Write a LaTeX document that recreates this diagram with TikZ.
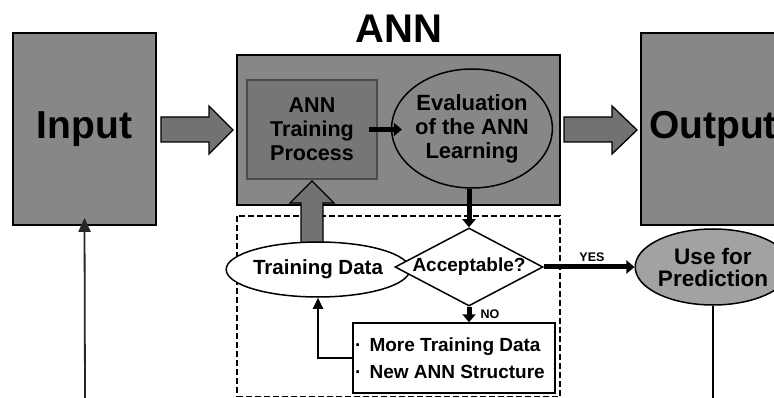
\documentclass[tikz,border=0pt]{standalone}
\usepackage{fontspec}
\setmainfont{Liberation Sans}
\usetikzlibrary{shapes.geometric,arrows.meta}
\definecolor{boxgray}{HTML}{878787}
\definecolor{innergray}{HTML}{767676}
\definecolor{predgray}{HTML}{A2A2A2}
\definecolor{fatgray}{HTML}{727272}
\definecolor{innerborder}{HTML}{4A4A4A}
\begin{document}
\begin{tikzpicture}[x=1pt,y=-1pt,
  bigbox/.style={draw=black,line width=1.6pt,fill=boxgray,inner sep=0pt,rectangle},
  fatarrow/.style={draw=black,line width=1.3pt,fill=fatgray,line join=miter},
  thickconn/.style={line width=5pt,-{Triangle[length=8pt,width=13pt]}},
  thinconn/.style={line width=1.8pt,-{Triangle[length=11pt,width=10pt]}},
  lbl/.style={font=\bfseries,align=center,inner sep=0pt}
]
\clip (0,0) rectangle (774,398);
\useasboundingbox (0,0) rectangle (774,398);
\fill[white] (0,0) rectangle (774,398);

% title
\node[lbl,font=\fontsize{40}{40}\selectfont\bfseries] (title) at (399,29) {ANN};

% big boxes
\node[bigbox,minimum width=143,minimum height=192,font=\fontsize{39}{39}\selectfont\bfseries] (input) at (84.5,129) {Input};
\node[bigbox,minimum width=323,minimum height=150] (ann) at (398.5,130) {};
\node[bigbox,minimum width=144,minimum height=192,font=\fontsize{39}{39}\selectfont\bfseries] (output) at (713,129) {Output};

% dashed region
\draw[line width=1.4pt,dashed,dash pattern=on 6pt off 3pt] (237,216) rectangle (560,396.5);

% fat arrows
\draw[fatarrow] (161,117) -- (209,117) -- (209,106) -- (233,130) -- (209,154) -- (209,142) -- (161,142) -- cycle;
\draw[fatarrow] (564,117) -- (612,117) -- (612,106) -- (637,130) -- (612,154) -- (612,142) -- (564,142) -- cycle;
\draw[fatarrow] (301,250) -- (301,203) -- (290,203) -- (312,181) -- (334,203) -- (323,203) -- (323,250) -- cycle;

% inner nodes
\node[rectangle,draw=innerborder,line width=1.5pt,fill=innergray,minimum width=130,minimum height=99,inner sep=0pt,
  font=\fontsize{21.5}{24}\selectfont\bfseries,align=center] (train) at (312,129.5) {ANN\\Training\\Process};
\node[ellipse,draw=black,line width=1.5pt,fill=boxgray,minimum width=156,minimum height=119,inner sep=0pt,
  font=\fontsize{22}{24}\selectfont\bfseries,align=center] (eval) at (472,128.5) {Evaluation\\of the ANN\\Learning};

\node[ellipse,draw=black,line width=1.5pt,fill=white,minimum width=150,minimum height=55,inner sep=0pt,
  font=\fontsize{20.5}{22}\selectfont\bfseries] (tdata) at (318,269.5) {Training Data};
\node[diamond,draw=black,line width=1.5pt,fill=white,minimum width=148,minimum height=78,inner sep=0pt,aspect=1.9,
  font=\fontsize{19}{21}\selectfont\bfseries] (acc) at (469,267) {Acceptable?};
\node[rectangle,draw=black,line width=1.5pt,fill=white,minimum width=202,minimum height=70,inner sep=0pt,
  font=\fontsize{19}{27}\selectfont\bfseries,align=left] (fix) at (454,358) {\hspace*{-8pt}·\hspace{8pt}More Training Data\\\hspace*{-8pt}·\hspace{8pt}New ANN Structure};
\node[ellipse,draw=black,line width=1.5pt,fill=predgray,minimum width=138,minimum height=76,inner sep=0pt,
  font=\fontsize{22.5}{22}\selectfont\bfseries,align=center] (pred) at (713,267) {Use for\\Prediction};

% connectors
\draw[thickconn] ([xshift=-9pt]train.east) -- ([xshift=11pt]train.east -| eval.west);
\draw[thickconn] (eval.south -| acc.north) -- (acc.north);
\draw[thickconn] (acc.south) -- (acc.south |- fix.north);
\draw[thickconn] (acc.east) -- (pred.west);
\draw[thinconn] (fix.west) -| (tdata.south);
\coordinate (inbot) at (85,398);
\draw[thinconn,draw=black!85,-{Triangle[length=14pt,width=12pt]}] (inbot) -- ([yshift=8pt]input.south);
\coordinate (outbot) at (713,398);
\draw[line width=1.8pt] (pred.south) -- (outbot);

% labels
\node[lbl,font=\fontsize{12.5}{12.5}\selectfont\bfseries] (yes) at (592,257) {YES};
\node[lbl,font=\fontsize{12.5}{12.5}\selectfont\bfseries] (no) at (490,314) {NO};
\end{tikzpicture}
\end{document}
